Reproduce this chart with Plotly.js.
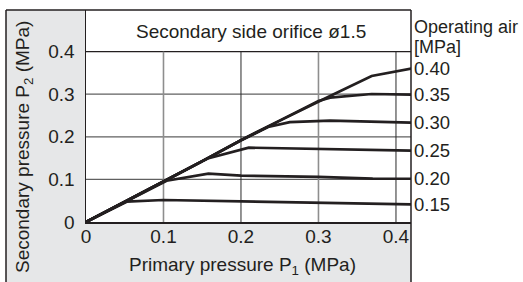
<!DOCTYPE html>
<html>
<head>
<meta charset="utf-8">
<script src="https://cdn.plot.ly/plotly-3.0.1.min.js"></script>
<style>html,body{margin:0;padding:0;background:#fff;}#chart{width:523px;height:282px;}</style>
</head>
<body>
<div id="chart"></div>
<script>
// Operating air pressure series (MPa): primary pressure P1 (x) vs secondary pressure P2 (y)
const operatingAir = ["0.40", "0.35", "0.30", "0.25", "0.20", "0.15"];

const p1_040 = [0, 0.05, 0.1, 0.15, 0.2, 0.25, 0.3, 0.315, 0.3686, 0.42];
const p2_040 = [0, 0.047, 0.095, 0.143, 0.192, 0.238, 0.284, 0.296, 0.3427, 0.36];

const p1_035 = [0, 0.05, 0.1, 0.15, 0.2, 0.25, 0.3, 0.315, 0.3686, 0.42];
const p2_035 = [0, 0.047, 0.095, 0.143, 0.192, 0.238, 0.284, 0.292, 0.3005, 0.299];

const p1_030 = [0, 0.05, 0.1, 0.15, 0.2, 0.235, 0.263, 0.315, 0.42];
const p2_030 = [0, 0.047, 0.095, 0.143, 0.192, 0.223, 0.2345, 0.238, 0.2335];

const p1_025 = [0, 0.05, 0.1, 0.157, 0.21, 0.3, 0.42];
const p2_025 = [0, 0.047, 0.095, 0.149, 0.1745, 0.172, 0.1675];

const p1_020 = [0, 0.05, 0.104, 0.158, 0.2, 0.3, 0.37, 0.42];
const p2_020 = [0, 0.047, 0.097, 0.1135, 0.109, 0.106, 0.102, 0.1015];

const p1_015 = [0, 0.0525, 0.1, 0.2, 0.3, 0.42];
const p2_015 = [0, 0.0477, 0.0516, 0.048, 0.0453, 0.0415];

const seriesX = [p1_040, p1_035, p1_030, p1_025, p1_020, p1_015];
const seriesY = [p2_040, p2_035, p2_030, p2_025, p2_020, p2_015];

const tickVals = [0, 0.1, 0.2, 0.3, 0.4];
const tickText = ["0", "0.1", "0.2", "0.3", "0.4"];

const chartTitle = "Secondary side orifice ø1.5";
const xTitle = "Primary pressure P<sub>1</sub> (MPa)";
const yTitle = "Secondary pressure P<sub>2</sub> (MPa)";
const legendTitle1 = "Operating air";
const legendTitle2 = "[MPa]";

const INK = "#231f20";
const FONT = "Liberation Sans, Arial, Helvetica, sans-serif";

const traces = seriesX.map((xs, i) => ({
  type: "scatter",
  mode: "lines",
  x: xs,
  y: seriesY[i],
  name: operatingAir[i],
  line: { color: INK, width: 2.7 },
  hoverinfo: "skip",
  showlegend: false
}));

const shapes = [];
// gray side and bottom panels
shapes.push({ type: "rect", xref: "paper", yref: "paper", x0: -80/325, x1: 0, y0: -60/212, y1: 1,
  fillcolor: "#e6e7e8", line: { width: 0 }, layer: "below" });
shapes.push({ type: "rect", xref: "paper", yref: "paper", x0: 0, x1: 1, y0: -60/212, y1: 0,
  fillcolor: "#e6e7e8", line: { width: 0 }, layer: "below" });
// grid lines
const vGridColors = { 0.1: "#8e8e8e", 0.2: "#2a2a2a", 0.3: "#8e8e8e", 0.4: "#2a2a2a" };
[0.1, 0.2, 0.3, 0.4].forEach(v => {
  shapes.push({ type: "line", xref: "x", yref: "y", x0: v, x1: v, y0: 0, y1: 0.4,
    line: { color: vGridColors[v], width: vGridColors[v] === "#8e8e8e" ? 1.6 : 1 }, layer: "below" });
});
[0.1, 0.2, 0.3].forEach(v => {
  shapes.push({ type: "line", xref: "paper", yref: "y", x0: 0, x1: 1, y0: v, y1: v,
    line: { color: "#606060", width: 1.3 }, layer: "below" });
});
shapes.push({ type: "line", xref: "paper", yref: "y", x0: 0, x1: 1, y0: 0.4, y1: 0.4,
  line: { color: INK, width: 1.3 }, layer: "below" });
// outer frame
shapes.push({ type: "line", xref: "paper", yref: "paper", x0: -80/325, x1: 1, y0: 1, y1: 1,
  line: { color: INK, width: 1.5 } });
shapes.push({ type: "line", xref: "paper", yref: "paper", x0: -80/325, x1: -80/325, y0: -60/212, y1: 1,
  line: { color: INK, width: 1.5 } });
shapes.push({ type: "line", xref: "paper", yref: "paper", x0: 1, x1: 1, y0: -60/212, y1: 1,
  line: { color: INK, width: 1.5 } });

const txt = (size) => ({ family: FONT, size: size, color: INK });

const annotations = [
  { text: chartTitle, xref: "paper", yref: "paper", x: (250.5-86)/325, y: (222-31)/212,
    xanchor: "center", yanchor: "middle", showarrow: false, font: txt(19) },
  { text: xTitle, xref: "paper", yref: "paper", x: (242-86)/325, y: (222-266)/212,
    xanchor: "center", yanchor: "middle", showarrow: false, font: txt(19) },
  { text: yTitle, xref: "paper", yref: "paper", x: (24-86)/325, y: (222-147)/212, textangle: -90,
    xanchor: "center", yanchor: "middle", showarrow: false, font: txt(19) },
  { text: legendTitle1, xref: "paper", yref: "paper", x: (412-86)/325, y: (222-27)/212,
    xanchor: "left", yanchor: "middle", showarrow: false, font: txt(18) },
  { text: legendTitle2, xref: "paper", yref: "paper", x: (412-86)/325, y: (222-47)/212,
    xanchor: "left", yanchor: "middle", showarrow: false, font: txt(18) }
];
operatingAir.forEach((lab, i) => {
  const ys = seriesY[i];
  annotations.push({ text: lab, xref: "paper", yref: "y", x: (412-86)/325, y: ys[ys.length-1],
    xanchor: "left", yanchor: "middle", showarrow: false, font: txt(18.5) });
});

const layout = {
  width: 523, height: 282,
  margin: { l: 86, r: 112, t: 10, b: 60, pad: 0 },
  paper_bgcolor: "#ffffff",
  plot_bgcolor: "#ffffff",
  font: txt(19),
  showlegend: false,
  xaxis: {
    range: [0, 0.4194], fixedrange: true,
    tickvals: tickVals, ticktext: tickText,
    showgrid: false, zeroline: false,
    showline: true, linecolor: INK, linewidth: 1.5,
    ticks: "", ticklabelstandoff: -3,
    tickfont: txt(19)
  },
  yaxis: {
    range: [0, 0.4977], fixedrange: true,
    tickvals: tickVals, ticktext: tickText,
    showgrid: false, zeroline: false,
    showline: true, linecolor: INK, linewidth: 1.5,
    ticks: "", ticklabelstandoff: 6,
    tickfont: txt(19)
  },
  shapes: shapes,
  annotations: annotations
};

Plotly.newPlot("chart", traces, layout, { staticPlot: true, displayModeBar: false });
</script>
</body>
</html>
